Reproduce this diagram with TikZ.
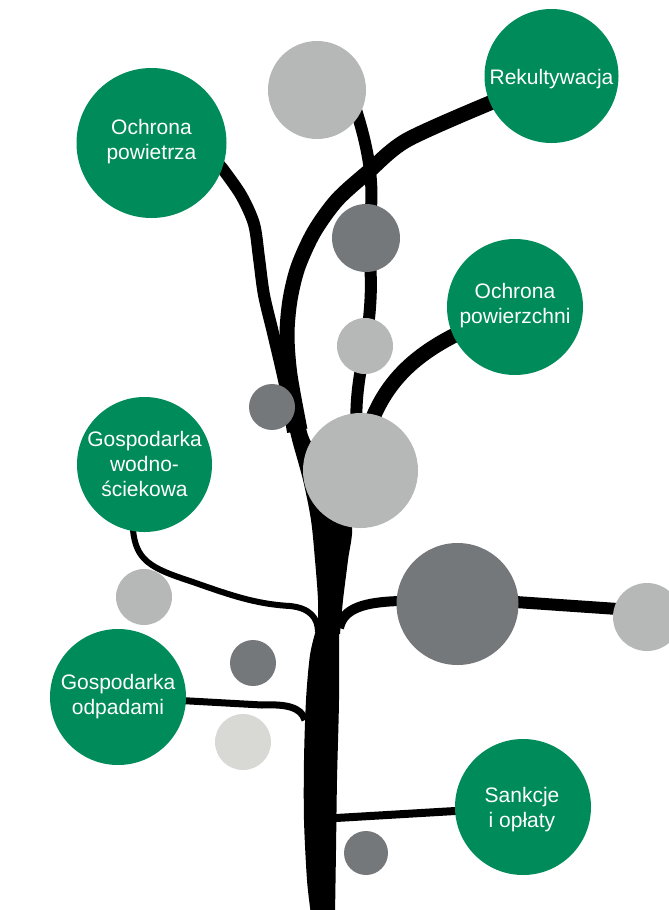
\documentclass[tikz,border=0pt]{standalone}
\usepackage{fontspec}
\setmainfont{Liberation Sans}
\definecolor{tgreen}{RGB}{0,139,90}
\definecolor{lgray}{RGB}{182,184,183}
\definecolor{dgray}{RGB}{117,120,123}
\definecolor{vlgray}{RGB}{216,217,213}
\pgfdeclarelayer{bg}
\pgfsetlayers{bg,main}
\begin{document}
\begin{tikzpicture}[x=1pt,y=-1pt,
  ball/.style={circle,inner sep=0pt,draw=none,minimum size=#1},
  gball/.style={ball=#1,fill=tgreen},
  lball/.style={ball=#1,fill=lgray},
  dball/.style={ball=#1,fill=dgray},
  vball/.style={ball=#1,fill=vlgray},
  lbl/.style={text=white,align=center,inner sep=0pt,font=\fontsize{21}{25}\selectfont},
  branch/.style={draw=black,line width=#1,line cap=butt,line join=round}]
\useasboundingbox (0,0) rectangle (669,910);
\clip (0,0) rectangle (669,910);

% circles
\node[gball=150pt] (powietrza) at (151.5,143) {};
\node[gball=134pt] (rekult) at (551.5,76) {};
\node[gball=136pt] (powierzchni) at (515,307) {};
\node[gball=135pt] (wodno) at (144.5,464.5) {};
\node[gball=136pt] (odpady) at (118,697) {};
\node[gball=136pt] (sankcje) at (523,807) {};

\node[lball=98pt] (topg) at (317,90) {};
\node[dball=68pt] (dg1) at (366,238) {};
\node[lball=56pt] (lg2) at (365,346) {};
\node[dball=46pt] (dg2) at (272,407) {};
\node[lball=115pt] (biglg) at (360.5,470.5) {};
\node[dball=122pt] (bigdg) at (457.5,604) {};
\node[lball=68pt] (rg) at (647,617) {};
\node[lball=56pt] (lg3) at (144,597) {};
\node[dball=46pt] (dg3) at (253,663) {};
\node[vball=56pt] (vlg) at (243,742) {};
\node[dball=44pt] (dg4) at (366,853) {};

% labels
\node[lbl] (tpow) at (151.5,142) {Ochrona\\powietrza};
\node[lbl] (trek) at (551.5,79.5) {Rekultywacja};
\node[lbl] (tpowz) at (515,306) {Ochrona\\powierzchni};
\node[lbl] (twod) at (144.5,464) {Gospodarka\\wodno-\\ściekowa};
\node[lbl] (todp) at (118,697) {Gospodarka\\odpadami};
\node[lbl] (tsan) at (522,810) {Sankcje\\i opłaty};

\coordinate (trunktop) at (300,430);
\coordinate (fork) at (318,632);
\coordinate (lowjoin) at (305,720);
\coordinate (rjoin) at (339,628);
\coordinate (sjoin) at (336,818);

\begin{pgfonlayer}{bg}
% upper trunk
\fill[black] plot[smooth] coordinates {(284,405) (292,440) (303,480) (311,520) (315,560) (318,600) (318,634)}
  -- plot[smooth] coordinates {(340,634) (343,600) (348,560) (352,525) (340,480) (310,440) (302,405)} -- cycle;
% lower trunk
\fill[black] plot[smooth] coordinates {(316,630) (310,655) (306,700) (304,760) (304,820) (307,880) (311,915)}
  -- plot[smooth] coordinates {(335,915) (336,850) (337,780) (339,700) (339,630)} -- cycle;

% Ochrona powietrza branch
\draw[branch=12pt] (powietrza.center) -- (215,160) -- plot[smooth] coordinates {(222,168) (241,195) (254,224) (259,258) (264,295) (274,337) (285,385) (293,432)};
% Rekultywacja branch
\draw[branch=15pt] (rekult.center) -- plot[smooth] coordinates {(490,103) (407,140) (368,172) (337,200) (314,232) (298,267) (290,300) (287,335) (290,375) (trunktop)};
% top gray branch
\draw[branch=12pt] (topg.center) -- (356,110) .. controls (372,160) and (376,200) .. (dg1.center)
  .. controls (376,280) and (368,330) .. (lg2.center) .. controls (358,385) and (352,410) .. (biglg.center);
% Ochrona powierzchni branch
\draw[branch=15pt] (powierzchni.center) -- (455,335) .. controls (410,358) and (385,385) .. (370,425) -- (biglg.center);
% wodno-sciekowa branch
\draw[branch=6pt] (wodno.center) -- (133,530) .. controls (136,560) and (150,568) .. (190,581)
  .. controls (230,595) and (255,604) .. (290,606) .. controls (310,608) and (318,618) .. (fork);
% odpady branch
\draw[branch=7pt] (odpady.center) -- (262,705) .. controls (286,704) and (301,707) .. (lowjoin);
% right big dark branch
\draw[branch=10pt] (rjoin) .. controls (343,608) and (365,602) .. (400,601) -- (bigdg.center);
\draw[branch=12pt] ([yshift=6pt]bigdg.center) -- ([yshift=6pt]rg.center);
% sankcje branch
\draw[branch=8pt] (sjoin) -- (sankcje.center);
\end{pgfonlayer}
\end{tikzpicture}
\end{document}
